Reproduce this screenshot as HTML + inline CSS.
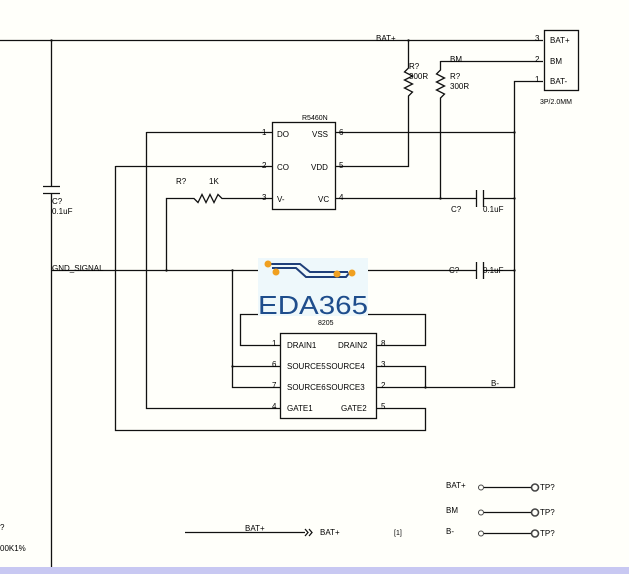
<!DOCTYPE html>
<html><head><style>
body{margin:0;background:#fffffa;}
svg{display:block;font-family:"Liberation Sans",sans-serif;font-size:8px;}
</style></head><body>
<svg width="629" height="574" viewBox="0 0 629 574" xmlns="http://www.w3.org/2000/svg">
<rect x="0" y="0" width="629" height="567" fill="#fffffa"/>
<rect x="0" y="567" width="629" height="7" fill="#c8c8f2"/>
<g stroke="#111" stroke-width="1.3" fill="none">
<path d="M0 40.5H543"/>
<path d="M51.5 40V186M51.5 194V567"/>
<path d="M43 186.5H60M43 193.5H60"/>
<path d="M440.5 61.5H543M440.5 61V70l-4 4 8 4-8 4 8 4-8 4 8 4-4 4V198"/>
<path d="M408.5 40V68l-4 4 8 4-8 4 8 4-8 4 8 4-4 4V166.5H335"/>
<path d="M543 81.5H514.5V387.5H376"/>
<path d="M335 132.5H514"/>
<path d="M335 198.5H476M484 198.5H514"/>
<path d="M476.5 190V207M483.5 190V207"/>
<path d="M51 270.5H476M484 270.5H514"/>
<path d="M476.5 262V279M483.5 262V279"/>
<rect x="272.5" y="122.5" width="63" height="87"/>
<path d="M146.5 132.5H272M146.5 132V408.5H280"/>
<path d="M115.5 166.5H272M115.5 166V430.5H425.5V408.5H376"/>
<path d="M272 198.5H222l-4 -4-4 8-4-8-4 8-4-8-4 8-4-4H166.5V270"/>
<rect x="280.5" y="333.5" width="96" height="85"/>
<path d="M280 345.5H240.5V314.5H425.5V345.5H376"/>
<path d="M232.5 270V387.5H280M232 366.5H280"/>
<path d="M376 366.5H425.5V387.5"/>
<rect x="544.5" y="30.5" width="34" height="60"/>
<path d="M484 487.5H532M484 512.5H532M484 533.5H532"/>
<path d="M185 532.5H305"/>
<path d="M305 529l3 3.5-3 3.5M309 529l3 3.5-3 3.5"/>
</g>
<g fill="#111">
<circle cx="408.5" cy="40.5" r="1.2"/><circle cx="514.5" cy="132.5" r="1.2"/><circle cx="514.5" cy="198.5" r="1.2"/><circle cx="440.5" cy="198.5" r="1.2"/><circle cx="514.5" cy="270.5" r="1.2"/><circle cx="166.5" cy="270.5" r="1.2"/><circle cx="232.5" cy="270.5" r="1.2"/><circle cx="232.5" cy="366.5" r="1.2"/><circle cx="425.5" cy="387.5" r="1.2"/><circle cx="51.5" cy="40.5" r="1.2"/>
</g>
<g fill="none" stroke="#444"><circle cx="481" cy="487.5" r="2.5"/><circle cx="481" cy="512.5" r="2.5"/><circle cx="481" cy="533.5" r="2.5"/>
<circle cx="535" cy="487.5" r="3.5" stroke-width="1.6"/><circle cx="535" cy="512.5" r="3.5" stroke-width="1.6"/><circle cx="535" cy="533.5" r="3.5" stroke-width="1.6"/></g>
<rect x="258" y="258" width="110" height="58" fill="#eef8fb"/>
<path d="M268 264H300L310 272H348" stroke="#1f3f7a" stroke-width="2" fill="none"/>
<path d="M272 268H296L306 277H346L350 272" stroke="#1f3f7a" stroke-width="2" fill="none"/>
<g fill="#f0a020"><circle cx="268" cy="264" r="3.5"/><circle cx="276" cy="272" r="3.5"/><circle cx="337" cy="274" r="3.5"/><circle cx="352" cy="273" r="3.5"/></g>
<text x="258" y="314" font-size="26" fill="#1e4d8c" textLength="110" lengthAdjust="spacingAndGlyphs">EDA365</text>
<g fill="#000">
<text x="376" y="41">BAT+</text>
<text x="450" y="62">BM</text>
<text x="409" y="69">R?</text><text x="409" y="79">300R</text>
<text x="450" y="79">R?</text><text x="450" y="89">300R</text>
<text x="535" y="41">3</text><text x="535" y="62">2</text><text x="535" y="82">1</text>
<text x="550" y="43">BAT+</text><text x="550" y="64">BM</text><text x="550" y="84">BAT-</text>
<text x="540" y="104" font-size="7">3P/2.0MM</text>
<text x="302" y="120" font-size="7">R5460N</text>
<text x="262" y="135">1</text><text x="277" y="137">DO</text><text x="312" y="137">VSS</text><text x="339" y="135">6</text>
<text x="262" y="168">2</text><text x="277" y="170">CO</text><text x="311" y="170">VDD</text><text x="339" y="168">5</text>
<text x="262" y="200">3</text><text x="277" y="202">V-</text><text x="318" y="202">VC</text><text x="339" y="200">4</text>
<text x="176" y="184">R?</text><text x="209" y="184">1K</text>
<text x="52" y="204">C?</text><text x="52" y="214">0.1uF</text>
<text x="451" y="212">C?</text><text x="483" y="212">0.1uF</text>
<text x="52" y="271">GND_SIGNAL</text>
<text x="449" y="273">C?</text><text x="483" y="273">0.1uF</text>
<text x="318" y="325" font-size="7">8205</text>
<text x="272" y="346">1</text><text x="287" y="348">DRAIN1</text><text x="338" y="348">DRAIN2</text><text x="381" y="346">8</text>
<text x="272" y="367">6</text><text x="287" y="369">SOURCE5</text><text x="326" y="369">SOURCE4</text><text x="381" y="367">3</text>
<text x="272" y="388">7</text><text x="287" y="390">SOURCE6</text><text x="326" y="390">SOURCE3</text><text x="381" y="388">2</text>
<text x="272" y="409">4</text><text x="287" y="411">GATE1</text><text x="341" y="411">GATE2</text><text x="381" y="409">5</text>
<text x="491" y="386">B-</text>
<text x="446" y="488">BAT+</text><text x="446" y="513">BM</text><text x="446" y="534">B-</text>
<text x="540" y="490">TP?</text><text x="540" y="515">TP?</text><text x="540" y="536">TP?</text>
<text x="245" y="531">BAT+</text><text x="320" y="535">BAT+</text>
<text x="394" y="535" font-size="7">[1]</text>
<text x="0" y="530">?</text><text x="0" y="551">00K1%</text>
</g>
</svg>
</body></html>
